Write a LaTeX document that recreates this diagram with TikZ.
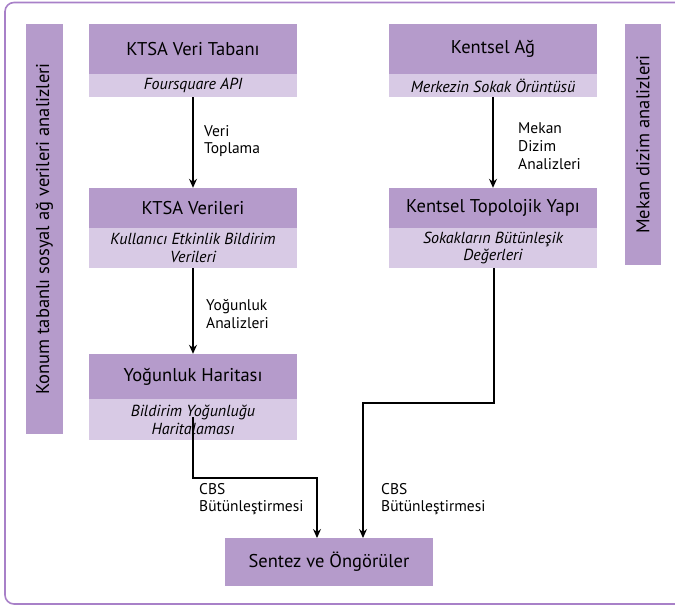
\documentclass[tikz,border=0pt]{standalone}
\usepackage{fontspec}
\setmainfont{PT Sans}
\usetikzlibrary{arrows.meta,calc}
\definecolor{hdrcol}{RGB}{181,155,203}
\definecolor{subcol}{RGB}{216,202,229}
\definecolor{framecol}{RGB}{168,128,200}
\tikzset{
  hdr/.style={fill=hdrcol, inner sep=0pt, minimum width=208pt, align=center, font=\fontsize{18.5}{21}\selectfont},
  subbox/.style={fill=subcol, inner sep=0pt, minimum width=208pt, align=center, font=\fontsize{16}{17.7}\selectfont\itshape},
  sidebar/.style={fill=hdrcol, inner sep=0pt, rotate=90, font=\fontsize{18.5}{21}\selectfont},
  lbl/.style={anchor=west, align=left, inner sep=0pt, font=\fontsize{15.5}{17.7}\selectfont},
  conn/.style={draw=black, line width=1.1pt, -{Stealth[length=9pt,width=8pt,inset=3pt]}},
}
\begin{document}
\begin{tikzpicture}[x=1pt,y=-1pt]
\useasboundingbox (0,0) rectangle (675,607);
\begin{scope}
\clip (0,0) rectangle (675,607);
\draw[framecol, line width=1.6pt, rounded corners=9pt] (5,2.5) rectangle (700,604);
\end{scope}
% side bars
\node[sidebar, minimum width=410pt, minimum height=37pt] (lbar) at (44.5,229) {Konum tabanlı sosyal ağ verileri analizleri};
\node[sidebar, minimum width=241pt, minimum height=36pt] (rbar) at (643,144.5) {Mekan dizim analizleri};
% left column
\node[hdr, minimum height=50pt] (kvt) at (193,49) {KTSA Veri Tabanı};
\node[subbox, minimum height=23pt] (kvts) at (193,85.5) {Foursquare API};
\node[hdr, minimum height=40pt] (kv) at (193,208) {KTSA Verileri};
\node[subbox, minimum height=40pt] (kvs) at (193,248) {Kullanıcı Etkinlik Bildirim\\Verileri};
\node[hdr, minimum height=45pt] (yh) at (193,376.5) {Yoğunluk Haritası};
\node[subbox, minimum height=41pt] (yhs) at (193,419.5) {Bildirim Yoğunluğu\\Haritalaması};
% right column
\node[hdr, minimum height=50pt] (ka) at (493,49) {Kentsel Ağ};
\node[subbox, minimum height=23pt] (kas) at (493,85.5) {Merkezin Sokak Örüntüsü};
\node[hdr, minimum height=40pt] (kt) at (493,208) {Kentsel Topolojik Yapı};
\node[subbox, minimum height=40pt] (kts) at (493,248) {Sokakların Bütünleşik\\Değerleri};
% bottom
\node[hdr, minimum height=48pt] (sz) at (329,562) {Sentez ve Öngörüler};
% connectors
\draw[conn] (kvts) -- (kv);
\draw[conn] (kvs) -- (yh);
\draw[conn] (kas) -- (kt);
\coordinate (ls) at (193,417);
\coordinate (lbend) at (193,478);
\coordinate (lend) at (317,538);
\draw[conn] (ls) -- (lbend) -| (lend);
\coordinate (rbend) at (494,403);
\coordinate (rend) at (363,538);
\draw[conn] (kts.south -| rbend) -- (rbend) -| (rend);
% labels
\node[lbl] (l1) at (204,141) {Veri\\Toplama};
\node[lbl] (l2) at (206,314) {Yoğunluk\\Analizleri};
\node[lbl] (l3) at (518,146) {Mekan\\Dizim\\Analizleri};
\node[lbl] (l4) at (199,499) {CBS\\Bütünleştirmesi};
\node[lbl] (l5) at (381,499) {CBS\\Bütünleştirmesi};
\end{tikzpicture}
\end{document}
